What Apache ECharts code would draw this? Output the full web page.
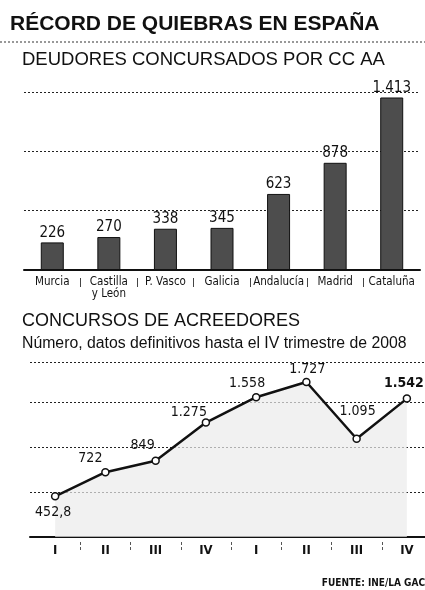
<!DOCTYPE html>
<html><head><meta charset="utf-8">
<script src="https://cdn.jsdelivr.net/npm/echarts@6/dist/echarts.min.js"></script>
<style>html,body{margin:0;padding:0;background:#fff}#c{width:425px;height:590px}</style>
</head><body><div id="c"></div>
<script>
const regiones = ['Murcia', 'Castilla\ny León', 'P. Vasco', 'Galicia', 'Andalucía', 'Madrid', 'Cataluña'];
const deudores = [226, 270, 338, 345, 623, 878, 1413];
const trimestres = ['I', 'II', 'III', 'IV', 'I', 'II', 'III', 'IV'];
const concursos = [452.8, 722, 849, 1275, 1558, 1727, 1095, 1542];

const NARROW = "'Liberation Sans Narrow','DejaVu Sans Condensed','Liberation Sans',sans-serif";
const SANS = "'Liberation Sans',Arial,sans-serif";
function fmt(n){
  const parts = String(n).split('.');
  return parts[0].replace(/\B(?=(\d{3})+(?!\d))/g, '.') + (parts[1] ? ',' + parts[1] : '');
}
// boundaries between categories (n+1 points), edges hidden
function boundaries(arr){ return arr.concat(['']).map((_, i) => String(i)); }
const lblStyle = [
  {position:'bottom', offset:[-2,0]},
  {position:'top', offset:[-15,2]},
  {position:'top', offset:[-13,1]},
  {position:'top', offset:[-17,6]},
  {position:'top', offset:[-9,2]},
  {position:'top', offset:[1,4]},
  {position:'top', offset:[1,-11]},
  {position:'top', offset:[-3,1], fontWeight:'bold'}
];
const chart = echarts.init(document.getElementById('c'));
chart.setOption({
  animation:false,
  backgroundColor:'#fff',
  title:[
    {text:'RÉCORD DE QUIEBRAS EN ESPAÑA', left:10, top:14, padding:0, textStyle:{fontFamily:SANS, fontSize:21, fontWeight:'bold', color:'#111'}},
    {text:'DEUDORES CONCURSADOS POR CC AA', left:22, top:50, padding:0, textStyle:{fontFamily:SANS, fontSize:18.5, fontWeight:'normal', color:'#111'}},
    {text:'CONCURSOS DE ACREEDORES', left:22, top:312, padding:0, textStyle:{fontFamily:SANS, fontSize:18, fontWeight:'normal', color:'#111'}},
    {text:'Número, datos definitivos hasta el IV trimestre de 2008', left:22, top:336, padding:0, textStyle:{fontFamily:SANS, fontSize:15.8, fontWeight:'normal', color:'#111'}},
    {text:'FUENTE: INE/LA GAC', right:0, top:578, padding:0, textStyle:{fontFamily:NARROW, fontSize:10, fontWeight:'bold', color:'#111'}}
  ],
  graphic:[
    {type:'line', shape:{x1:0, y1:42, x2:425, y2:42}, style:{stroke:'#333', lineWidth:1, lineDash:[2,2]}}
  ],
  grid:[
    {left:24, right:5, top:92, height:178, outerBoundsMode:'none'},
    {left:30, right:-7, top:362, height:175, outerBoundsMode:'none'}
  ],
  xAxis:[
    {type:'category', gridIndex:0, data:regiones,
     axisLine:{lineStyle:{color:'#111', width:2}}, axisTick:{show:false},
     axisLabel:{interval:0, fontFamily:NARROW, fontSize:11.5, color:'#111', margin:6, lineHeight:12, verticalAlign:'top'}},
    {type:'category', gridIndex:0, data:boundaries(regiones), boundaryGap:false, position:'bottom', offset:8,
     axisLine:{show:false}, axisLabel:{show:false},
     axisTick:{show:true, length:9, interval:(i)=> i>0 && i<regiones.length, lineStyle:{color:'#444'}}},
    {type:'category', gridIndex:1, data:trimestres,
     axisLine:{lineStyle:{color:'#111', width:2}}, axisTick:{show:false},
     axisLabel:{interval:0, fontFamily:NARROW, fontSize:13, fontWeight:'bold', color:'#111', margin:7}},
    {type:'category', gridIndex:1, data:boundaries(trimestres), boundaryGap:false, position:'bottom', offset:5,
     axisLine:{show:false}, axisLabel:{show:false},
     axisTick:{show:true, length:10, interval:(i)=> i>0 && i<trimestres.length, lineStyle:{color:'#555', type:[3,2]}}}
  ],
  yAxis:[
    {type:'value', gridIndex:0, min:0, max:1458, interval:486,
     axisLine:{show:false}, axisTick:{show:false}, axisLabel:{show:false},
     splitLine:{lineStyle:{color:'#222', type:[2,2], width:1}}},
    {type:'value', gridIndex:1, min:0, max:1950, interval:500,
     axisLine:{show:false}, axisTick:{show:false}, axisLabel:{show:false},
     splitLine:{lineStyle:{color:'#222', type:[2,2], width:1}}}
  ],
  series:[
    {type:'bar', xAxisIndex:0, yAxisIndex:0, data:deudores, barWidth:23,
     itemStyle:{color:'#4d4d4d', borderColor:'#111', borderWidth:1},
     label:{show:true, position:'top', distance:2, formatter:p=>fmt(p.value),
            fontFamily:NARROW, fontSize:15, color:'#111'}},
    {type:'line', xAxisIndex:2, yAxisIndex:1,
     data:concursos.map((v,i)=>({value:v, label:lblStyle[i]})),
     lineStyle:{color:'#111', width:2.5}, symbol:'circle', symbolSize:7,
     itemStyle:{color:'#fff', borderColor:'#111', borderWidth:1.5},
     areaStyle:{color:'#ebebeb'},
     label:{show:true, distance:5, formatter:p=>fmt(p.value), fontFamily:NARROW, fontSize:14, color:'#111'}}
  ]
});
</script></body></html>
